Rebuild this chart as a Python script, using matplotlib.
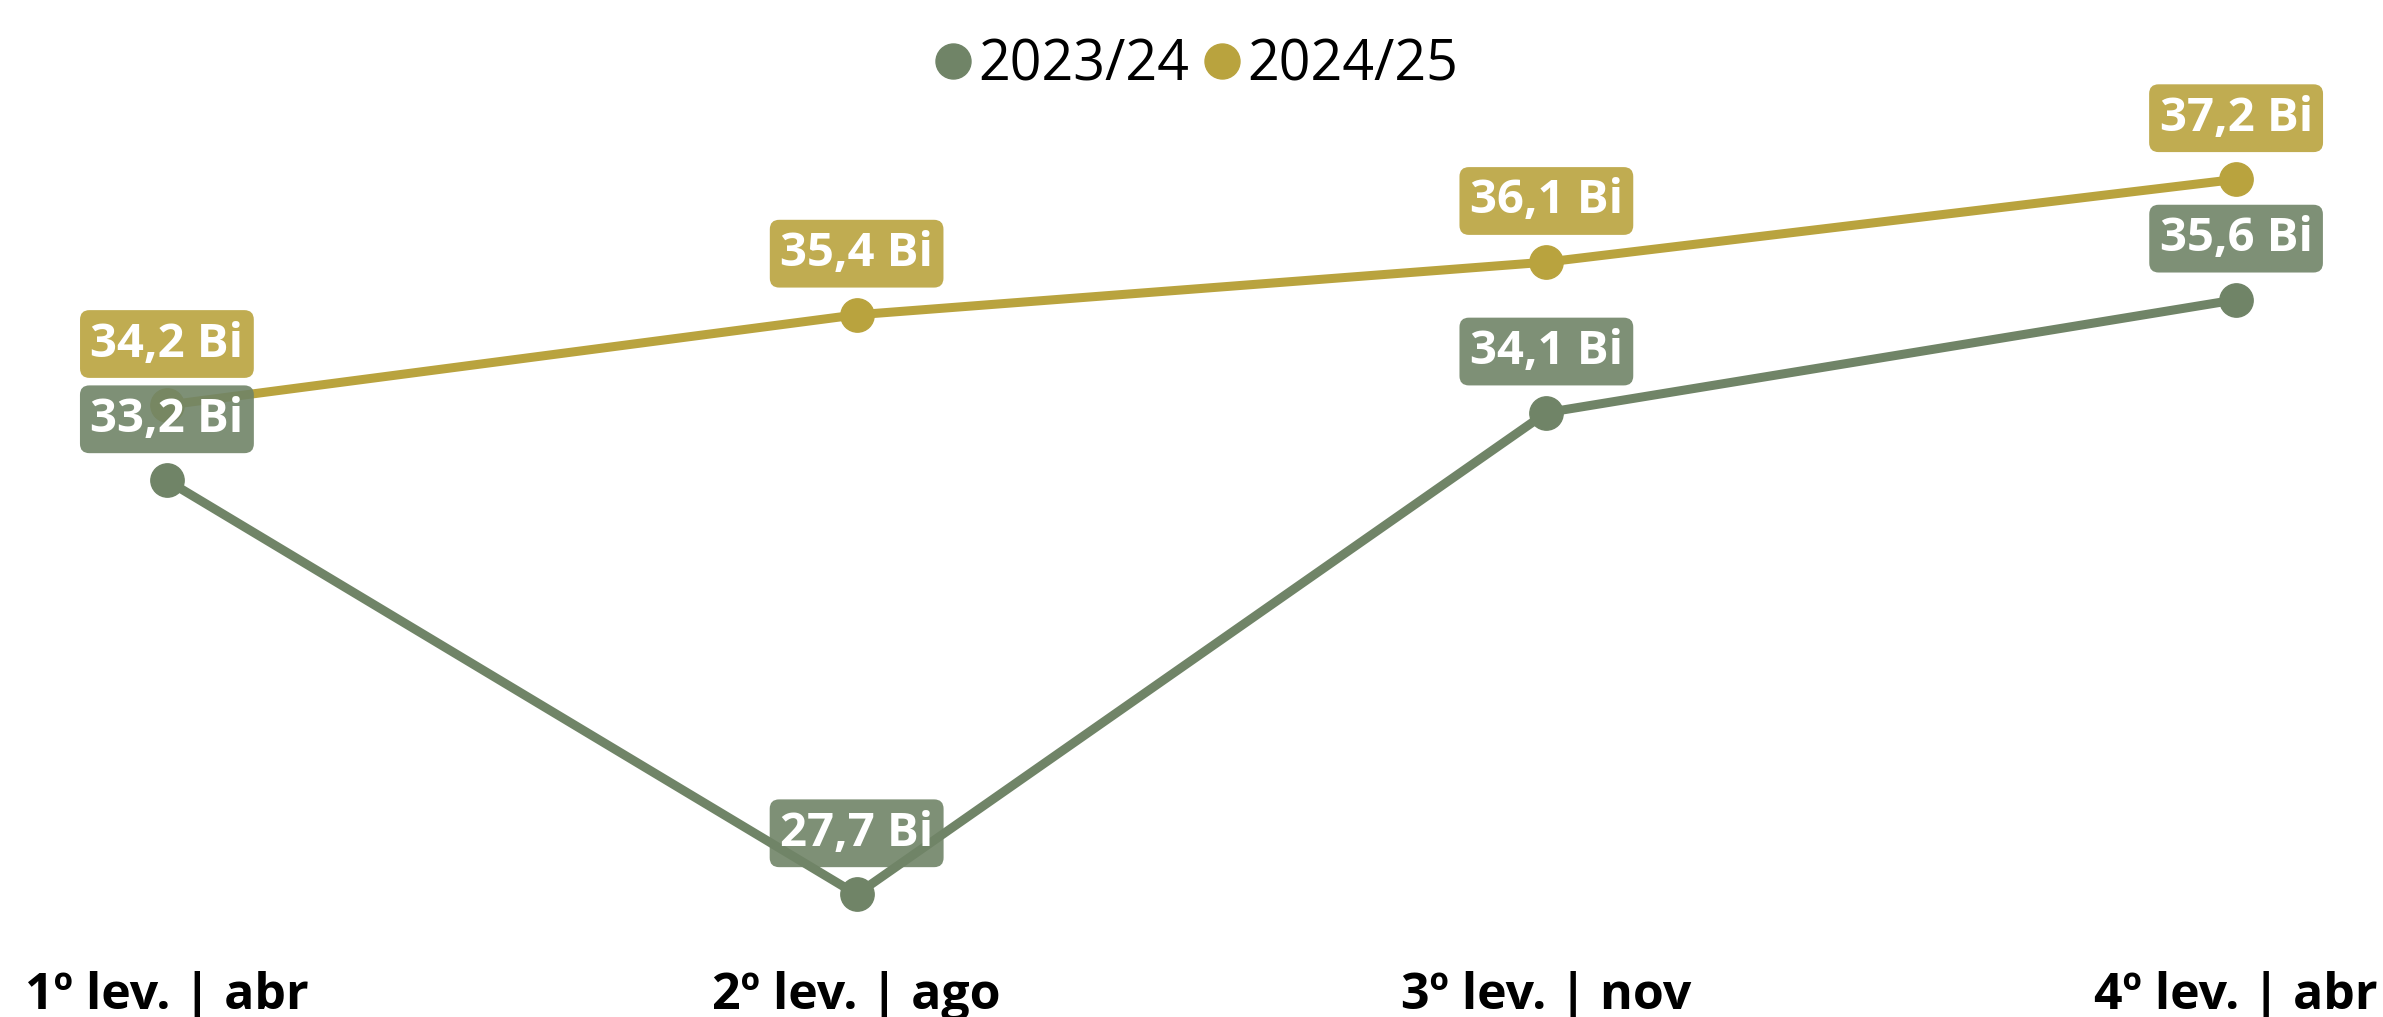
# Production estimates for each survey ("levantamento") of the two seasons.
# Two lines with a labelled box above every point.

from numpy import *
import matplotlib.pyplot as plt

plt.rcParams['font.family'] = ['Open Sans', 'DejaVu Sans']

# Survey labels and values (Bi)
labels = ["1º lev. | abr", "2º lev. | ago", "3º lev. | nov", "4º lev. | abr"]
s2324 = [33.2, 27.7, 34.1, 35.6]
s2425 = [34.2, 35.4, 36.1, 37.2]
green = "#708467"
gold = "#b9a33e"
x = arange(len(labels))

# Figure with the axes spread over the whole width
fig = plt.figure(figsize=(23.83, 10.17), dpi=100)
ax = fig.add_axes([0, 0.0954, 1, 0.806])
plt.plot(x, s2324, color=green, lw=6.5, marker="o", ms=24, label="2023/24", zorder=2)
plt.plot(x, s2425, color=gold, lw=6.5, marker="o", ms=24, label="2024/25", zorder=2)

# Value boxes above the points
for xs, ys, c in [(x, s2324, green), (x, s2425, gold)]:
    for i in range(len(ys)):
        t = ("%.1f Bi" % ys[i]).replace(".", ",")
        plt.annotate(t, (xs[i], ys[i]), xytext=(0, 44), textcoords="offset points",
                     ha="center", va="center", color="white", fontsize=34, fontweight="bold",
                     bbox=dict(boxstyle="round,pad=0.22,rounding_size=0.2", fc=c, ec="none", alpha=0.9),
                     zorder=3)

plt.xlim(-0.242, 3.213)
plt.ylim(27.36, 38.25)
plt.xticks(x, labels, fontsize=36, fontweight="bold")
plt.yticks([])
plt.tick_params(axis="x", length=0, pad=37)
for s in ax.spines.values():
    s.set_visible(False)

# Legend on top
fig.legend(loc="upper center", bbox_to_anchor=(0.503, 1.012), ncol=2, frameon=False,
           fontsize=40, handlelength=0.5, handletextpad=0.2, columnspacing=0.35,
           markerscale=1.05)
leg = fig.legends[0]
for h in leg.legend_handles:
    h.set_linestyle("none")

plt.savefig("out.png")
